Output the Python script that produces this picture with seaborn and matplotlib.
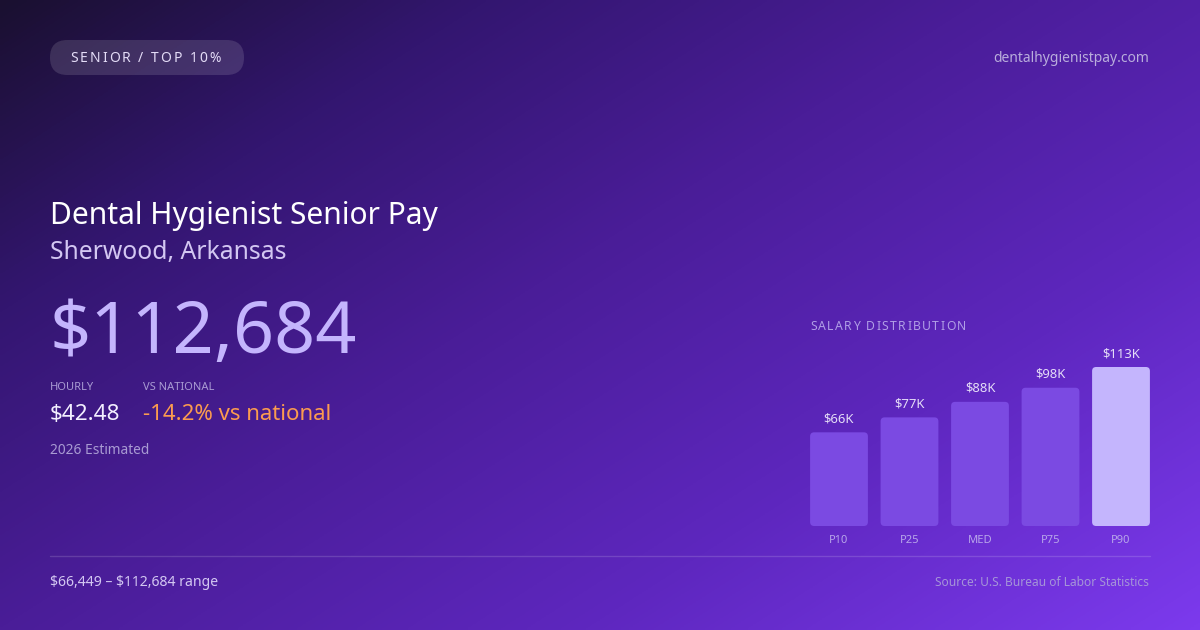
import numpy as np
import seaborn as sns
from matplotlib import pyplot as plt
from matplotlib.colors import LinearSegmentedColormap
from matplotlib.patches import FancyBboxPatch
from matplotlib.font_manager import FontProperties

percentiles = ['P10', 'P25', 'MED', 'P75', 'P90']
salary_k = [66.4, 77.0, 88.0, 98.0, 112.7]
bar_labels = ['\\$66K', '\\$77K', '\\$88K', '\\$98K', '\\$113K']
bar_colors = ['#7b4ae2', '#7b4ae2', '#7b4ae2', '#7b4ae2', '#c4b5fd']

title = 'Dental Hygienist Senior Pay'
location = 'Sherwood, Arkansas'
annual = '\\$112,684'
hourly = '\\$42.48'
vs_national = '-14.2% vs national'
range_text = '\\$66,449 \u2013 \\$112,684 range'

W, H = 1200, 630

sns.set_style("white")
plt.rcParams['font.family'] = ['Noto Sans', 'DejaVu Sans']

fig = plt.figure(figsize=(12, 6.3), dpi=100)
renderer = fig.canvas.get_renderer()


def spaced_text(ax, x, y, s, size, color, spacing):
    # matplotlib has no letter-spacing, so place the glyphs one by one
    prop = FontProperties(family=['Noto Sans', 'DejaVu Sans'], size=size)
    space_w = renderer.get_text_width_height_descent('a a', prop, ismath=False)[0] - \
        renderer.get_text_width_height_descent('aa', prop, ismath=False)[0]
    for ch in s:
        ax.text(x, y, ch, fontproperties=prop, color=color, va='center', ha='left')
        if ch == ' ':
            w = space_w
        else:
            w = renderer.get_text_width_height_descent(ch, prop, ismath=False)[0]
        x += w + spacing


# background gradient, dark top-left to violet bottom-right
bg = fig.add_axes([0, 0, 1, 1])
xx, yy = np.meshgrid(np.linspace(0, 1, 400), np.linspace(0, 1, 210))
t = (xx * 0.55 + yy * 0.45)
cmap = LinearSegmentedColormap.from_list(
    'bg', [(0, '#1a1030'), (0.22, '#331670'), (0.45, '#4a1d98'), (0.72, '#5e27bf'), (1, '#7c3aed')])
bg.imshow(t, cmap=cmap, extent=[0, W, H, 0], aspect='auto', vmin=0, vmax=1)
bg.set_xlim(0, W)
bg.set_ylim(H, 0)
bg.axis('off')

# pill badge
pill = FancyBboxPatch((50, 40), 194, 35, boxstyle="round,pad=0,rounding_size=17.5",
                      facecolor='white', alpha=0.13, edgecolor='none')
bg.add_patch(pill)
spaced_text(bg, 70, 58, 'SENIOR / TOP 10%', 10, '#e4dcf7', 2.0)
bg.text(1149, 58, 'dentalhygienistpay.com', color='#b9addc', fontsize=10, va='center', ha='right')

bg.text(50, 216, title, color='white', fontsize=21.6, va='center', ha='left')
bg.text(50, 253, location, color='#d3c7f2', fontsize=17.8, va='center', ha='left')
bg.text(50, 335, annual, color='#c4b5fd', fontsize=51.8, va='center', ha='left')

bg.text(50, 388, 'HOURLY', color='#a99bd3', fontsize=8, va='center', ha='left')
bg.text(143, 388, 'VS NATIONAL', color='#a99bd3', fontsize=8, va='center', ha='left')
bg.text(50, 415, hourly, color='#f3efff', fontsize=16.2, va='center', ha='left')
bg.text(143, 415, vs_national, color='#fb9b4f', fontsize=16, va='center', ha='left')
bg.text(50, 450, '2026 Estimated', color='#a99bd3', fontsize=9.9, va='center', ha='left')

bg.plot([50, 1150], [556, 556], color='white', alpha=0.15, lw=1)
bg.text(50, 582, range_text, color='#d3c7f2', fontsize=10.1, va='center', ha='left')
bg.text(1149, 582, 'Source: U.S. Bureau of Labor Statistics', color='#a595d8',
        fontsize=8.6, va='center', ha='right')

spaced_text(bg, 810, 326, 'SALARY DISTRIBUTION', 8.8, '#b09ee6', 1.4)

# bar chart
ytop = 130
px_per_k = 159 / 112.7
ax_h = ytop * px_per_k
ax = fig.add_axes([803.75 / W, (H - 526) / H, 352.5 / W, ax_h / H])
ax.set_facecolor('none')
sns.barplot(x=percentiles, y=salary_k, hue=percentiles, palette=bar_colors,
            width=0.82, saturation=1, legend=False, ax=ax)
ax.set_xlim(-0.5, 4.5)
ax.set_ylim(0, ytop)

x_per_px = 5 / 352.5
y_per_px = ytop / ax_h
for p in list(ax.patches):
    x0, w, h = p.get_x(), p.get_width(), p.get_height()
    fc = p.get_facecolor()
    p.set_visible(False)
    ax.add_patch(FancyBboxPatch((x0, 0), w, h,
                                boxstyle=f"round,pad=0,rounding_size={4 * x_per_px}",
                                mutation_aspect=y_per_px / x_per_px,
                                facecolor=fc, edgecolor='none'))

for i, (v, lab) in enumerate(zip(salary_k, bar_labels)):
    ax.annotate(lab, (i, v), xytext=(0, 5), textcoords='offset points',
                ha='center', va='bottom', color='#e4dcf7', fontsize=9.4)

ax.tick_params(axis='x', length=0, pad=6.5, labelcolor='#b8a6ea', labelsize=8)
ax.set_yticks([])
ax.set_xlabel('')
ax.set_ylabel('')
for s in ax.spines.values():
    s.set_visible(False)

plt.savefig('out.png', dpi=100)
plt.close()
